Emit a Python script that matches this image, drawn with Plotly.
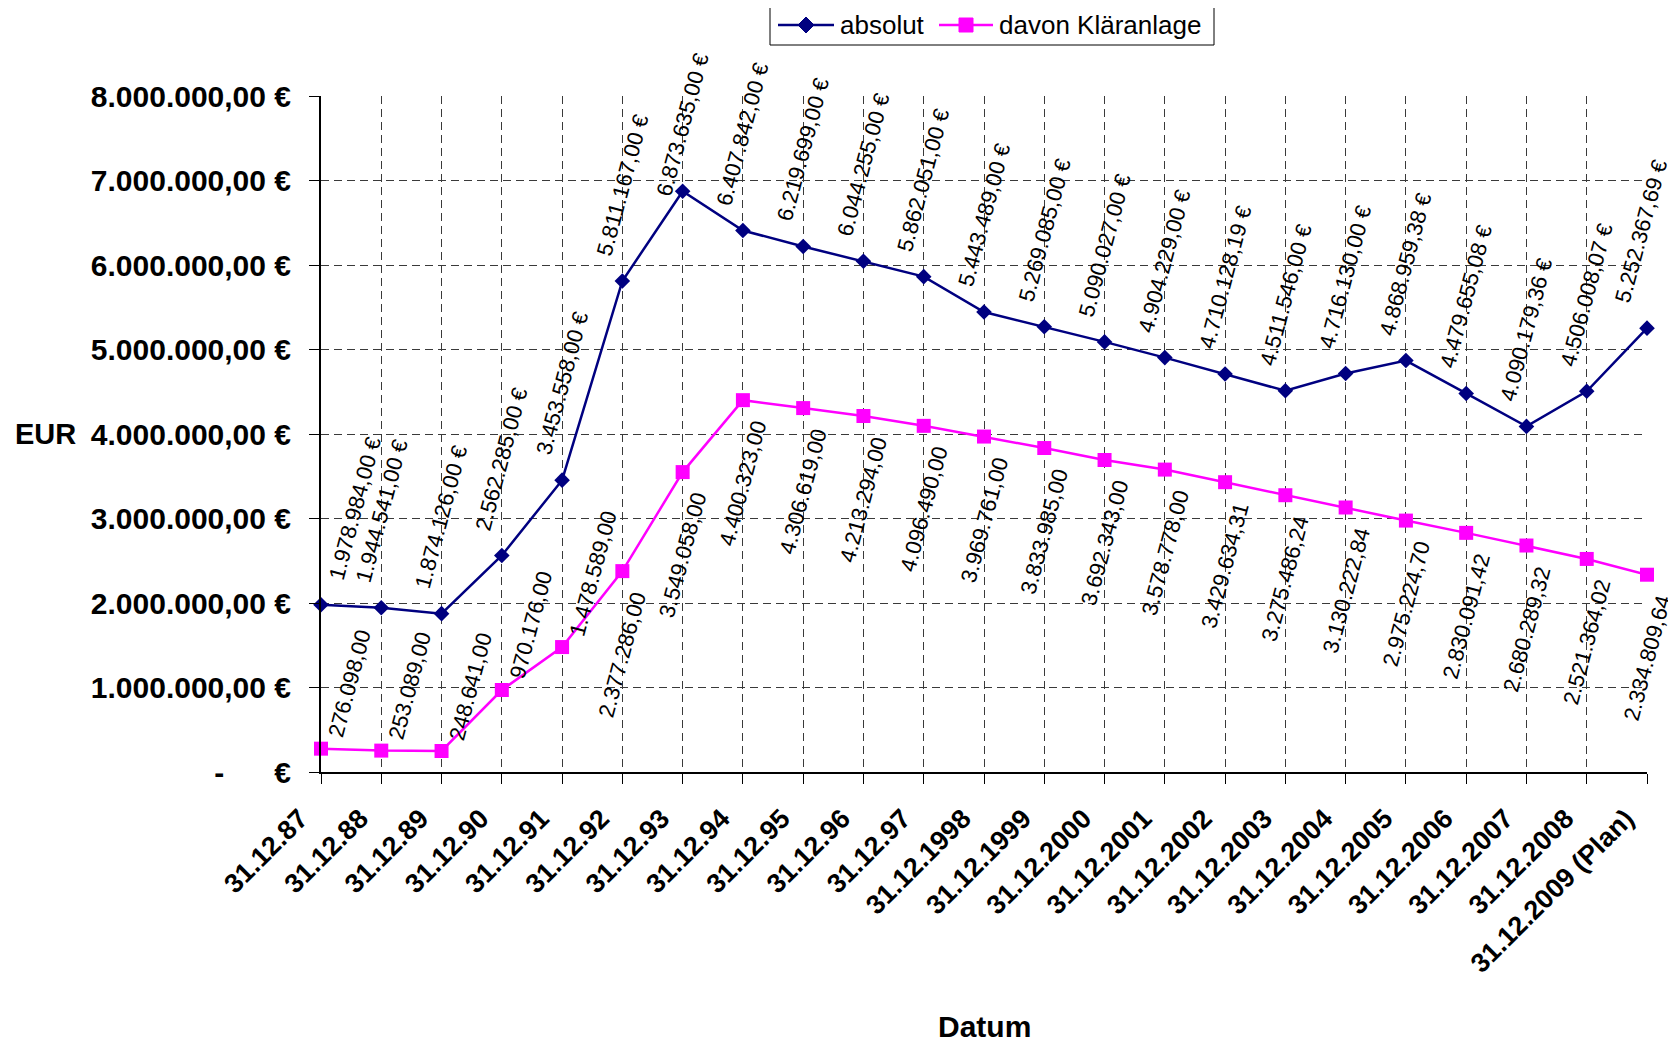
import plotly.graph_objects as go

categories = ["31.12.87", "31.12.88", "31.12.89", "31.12.90", "31.12.91", "31.12.92",
              "31.12.93", "31.12.94", "31.12.95", "31.12.96", "31.12.97", "31.12.1998",
              "31.12.1999", "31.12.2000", "31.12.2001", "31.12.2002", "31.12.2003",
              "31.12.2004", "31.12.2005", "31.12.2006", "31.12.2007", "31.12.2008",
              "31.12.2009 (Plan)"]

absolut = [1978984.00, 1944541.00, 1874126.00, 2562285.00, 3453558.00, 5811167.00,
           6873635.00, 6407842.00, 6219699.00, 6044255.00, 5862051.00, 5443489.00,
           5269085.00, 5090027.00, 4904229.00, 4710128.19, 4511546.00, 4716130.00,
           4868959.38, 4479655.08, 4090179.36, 4506008.07, 5252367.69]

klaeranlage = [276098.00, 253089.00, 248641.00, 970176.00, 1478589.00, 2377286.00,
               3549058.00, 4400323.00, 4306619.00, 4213294.00, 4096490.00, 3969761.00,
               3833985.00, 3692343.00, 3578778.00, 3429634.31, 3275486.24, 3130222.84,
               2975224.70, 2830091.42, 2680289.32, 2521364.02, 2334809.64]

y_tick_values = [0, 1000000, 2000000, 3000000, 4000000, 5000000, 6000000, 7000000, 8000000]
y_tick_labels = ["-\u00a0\u00a0\u00a0\u00a0\u00a0\u00a0€", "1.000.000,00 €", "2.000.000,00 €",
                 "3.000.000,00 €", "4.000.000,00 €", "5.000.000,00 €", "6.000.000,00 €",
                 "7.000.000,00 €", "8.000.000,00 €"]

series_names = ["absolut", "davon Kläranlage"]

# style: how many leading Kläranlage labels sit above/right of their point
KL_ABOVE_COUNT = 5
# style: per-label vertical nudges (px) for the "absolut" labels
ABS_LABEL_NUDGE = {6: -30}
ABS_LABEL_XNUDGE = {22: -6}

NAVY = "#000080"
MAGENTA = "#FF00FF"
FONT = "Liberation Sans, Arial, sans-serif"

# page is offset by the 8px body margin; plot area spans page px 321..1647 x 96..772
FIG_W, FIG_H = 1668, 1036
ML, MT, MR, MB = 313, 88, 29, 272
PX0, PX1, PY0, PY1 = 321, 1647, 96, 772


def px_to_paper_x(px):
    return (px - PX0) / (PX1 - PX0)


def px_to_paper_y(py):
    return (PY1 - py) / (PY1 - PY0)


def de_fmt(v):
    s = f"{v:,.2f}"
    return s.replace(",", "X").replace(".", ",").replace("X", ".")


fig = go.Figure()
fig.add_trace(go.Scatter(
    x=categories, y=absolut, name=series_names[0], mode="lines+markers",
    line=dict(color=NAVY, width=2.5),
    marker=dict(symbol="diamond", size=12, color=NAVY),
    cliponaxis=False, showlegend=False,
))
fig.add_trace(go.Scatter(
    x=categories, y=klaeranlage, name=series_names[1], mode="lines+markers",
    line=dict(color=MAGENTA, width=2.5),
    marker=dict(symbol="square", size=14, color=MAGENTA),
    cliponaxis=False, showlegend=False,
))

annotations = []
LABEL_ANGLE = -75
LABEL_FONT = dict(family=FONT, size=22, color="black")
for i, (c, v) in enumerate(zip(categories, absolut)):
    annotations.append(dict(
        x=c, y=v, xref="x", yref="y", text=de_fmt(v) + " €", showarrow=False,
        textangle=LABEL_ANGLE, xanchor="left" if i == 0 else "center",
        yanchor="bottom", yshift=20 + ABS_LABEL_NUDGE.get(i, 0),
        xshift=ABS_LABEL_XNUDGE.get(i, 0), font=LABEL_FONT,
    ))
for i, (c, v) in enumerate(zip(categories, klaeranlage)):
    if i < KL_ABOVE_COUNT:
        annotations.append(dict(
            x=c, y=v, xref="x", yref="y", text=de_fmt(v), showarrow=False,
            textangle=LABEL_ANGLE, xanchor="left", yanchor="bottom", yshift=6,
            font=LABEL_FONT,
        ))
    else:
        annotations.append(dict(
            x=c, y=v, xref="x", yref="y", text=de_fmt(v), showarrow=False,
            textangle=LABEL_ANGLE, xanchor="center", yanchor="top", yshift=-16,
            font=LABEL_FONT,
        ))

# axis titles
annotations.append(dict(
    x=px_to_paper_x(13), y=4000000, xref="paper", yref="y", text="<b>EUR</b>", showarrow=False,
    xanchor="left", yanchor="middle", font=dict(family=FONT, size=29, color="black"),
))
annotations.append(dict(
    x=0.5, y=px_to_paper_y(1026), xref="paper", yref="paper", text="<b>Datum</b>",
    showarrow=False, xanchor="center", yanchor="middle",
    font=dict(family=FONT, size=30, color="black"),
))

# custom legend (box, line+marker samples, labels)
LEG_Y = px_to_paper_y(25)
legend_items = [
    (series_names[0], NAVY, "diamond", 778, 834, 838),
    (series_names[1], MAGENTA, "square", 939, 993, 997),
]
shapes = [dict(
    type="rect", xref="paper", yref="paper",
    x0=px_to_paper_x(770), x1=px_to_paper_x(1214),
    y0=px_to_paper_y(45), y1=px_to_paper_y(5),
    line=dict(color="black", width=1), fillcolor="white", layer="above",
)]
for name, color, sym, lx0, lx1, tx in legend_items:
    shapes.append(dict(
        type="line", xref="paper", yref="paper",
        x0=px_to_paper_x(lx0), x1=px_to_paper_x(lx1), y0=LEG_Y, y1=LEG_Y,
        line=dict(color=color, width=2.5), layer="above",
    ))
    cx = px_to_paper_x((lx0 + lx1) / 2)
    if sym == "diamond":
        shapes.append(dict(
            type="path", xref="paper", yref="paper", xsizemode="pixel", ysizemode="pixel",
            xanchor=cx, yanchor=LEG_Y, path="M-8,0 L0,8 L8,0 L0,-8 Z",
            fillcolor=color, line=dict(color=color, width=1), layer="above",
        ))
    else:
        shapes.append(dict(
            type="rect", xref="paper", yref="paper", xsizemode="pixel", ysizemode="pixel",
            xanchor=cx, yanchor=LEG_Y, x0=-7, x1=7, y0=-7, y1=7,
            fillcolor=color, line=dict(color=color, width=1), layer="above",
        ))
    annotations.append(dict(
        x=px_to_paper_x(tx), y=LEG_Y, xref="paper", yref="paper", text=name,
        showarrow=False, xanchor="left", yanchor="middle",
        font=dict(family=FONT, size=26, color="black"),
    ))

fig.update_layout(
    width=FIG_W, height=FIG_H,
    margin=dict(l=ML, r=MR, t=MT, b=MB, autoexpand=False),
    paper_bgcolor="white", plot_bgcolor="white",
    font=dict(family=FONT, color="black"),
    showlegend=False,
    annotations=annotations,
    shapes=shapes,
)

fig.update_xaxes(
    type="category", range=[0, len(categories) - 1],
    tickvals=categories, ticktext=["<b>%s</b>" % c for c in categories],
    showline=True, linecolor="black", linewidth=2,
    ticks="outside", ticklen=10, tickcolor="black", tickwidth=1,
    tickangle=-45, tickfont=dict(family=FONT, size=27, color="black"),
    ticklabelstandoff=8, ticklabelshift=-21,
    showgrid=True, gridcolor="#3a3a3a", gridwidth=1, griddash="8px,5px",
    zeroline=False,
)
fig.update_yaxes(
    range=[0, 8000000], tickvals=y_tick_values, ticktext=["<b>%s</b>" % t for t in y_tick_labels],
    showline=True, linecolor="black", linewidth=2,
    ticks="outside", ticklen=10, tickcolor="black", tickwidth=1,
    tickfont=dict(family=FONT, size=30, color="black"),
    ticklabelstandoff=12,
    showgrid=True, gridcolor="#3a3a3a", gridwidth=1, griddash="8px,5px",
    zeroline=False,
)

fig.write_html("out.html")
